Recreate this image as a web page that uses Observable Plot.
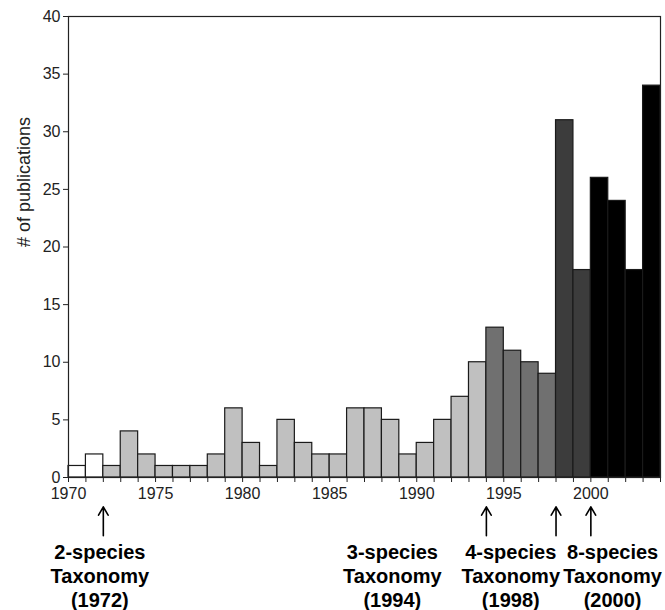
<!DOCTYPE html>
<html>
<head>
<meta charset="utf-8">
<script src="https://cdn.jsdelivr.net/npm/d3@7"></script>
<script src="https://cdn.jsdelivr.net/npm/@observablehq/plot@0.6"></script>
<style>
  html, body { margin: 0; padding: 0; background: #fff; }
  #chart svg { font-family: "Liberation Sans", Arial, sans-serif; }
</style>
</head>
<body>
<div id="chart"></div>
<script>
const years  = [1970,1971,1972,1973,1974,1975,1976,1977,1978,1979,1980,1981,1982,1983,1984,1985,1986,1987,1988,1989,1990,1991,1992,1993,1994,1995,1996,1997,1998,1999,2000,2001,2002,2003];
const counts = [1,2,1,4,2,1,1,1,2,6,3,1,5,3,2,2,6,6,5,2,3,5,7,10,13,11,10,9,31,18,26,24,18,34];
const eras   = ["none","none","2","2","2","2","2","2","2","2","2","2","2","2","2","2","2","2","2","2","2","2","2","2","3","3","3","3","4","4","8","8","8","8"];
const eraNames  = ["none","2","3","4","8"];
const eraColors = ["#ffffff","#c0c0c0","#707070","#3c3c3c","#000000"];
const yTicks = [0,5,10,15,20,25,30,35,40];
const yLabel = "# of publications";

const noteYears  = [1972,1994,1998,2000];
const labelX     = [1971.8,1988.6,1995.4,2001.25];
const labelText  = ["2-species\nTaxonomy\n(1972)","3-species\nTaxonomy\n(1994)","4-species\nTaxonomy\n(1998)","8-species\nTaxonomy\n(2000)"];

const bars = years.map((y, i) => ({year: y, count: counts[i], era: eras[i]}));
const labels = labelText.map((t, i) => ({x: labelX[i], text: t}));
const arrows = noteYears.map(y => ({year: y}));

const chart = Plot.plot({
  width: 665,
  height: 610,
  marginLeft: 68,
  marginRight: 5,
  marginTop: 16,
  marginBottom: 133,
  style: {fontFamily: "Liberation Sans, Arial, sans-serif", fontSize: "16px", color: "#222"},
  x: {domain: [1970, 2004]},
  y: {domain: [0, 40]},
  color: {domain: eraNames, range: eraColors},
  marks: [
    Plot.rectY(bars, {x1: "year", x2: d => d.year + 1, y: "count", fill: "era", stroke: "#1a1a1a", strokeWidth: 1.2}),
    Plot.frame({stroke: "#222", strokeWidth: 1.2}),
    Plot.axisY({ticks: yTicks, tickSize: 5, tickPadding: 3, fontSize: 16, label: null}),
    Plot.text([yLabel], {frameAnchor: "left", dx: -44, rotate: -90, text: d => d, fontSize: 18, fill: "#222"}),
    Plot.axisX({ticks: years.concat([2004]), tickSize: 5, tickPadding: 5, fontSize: 16, tickFormat: d => d % 5 === 0 && d < 2004 ? String(d) : "", label: null}),
    Plot.arrow(arrows, {x1: "year", x2: "year", y1: -5.05, y2: -2.55, stroke: "#000", strokeWidth: 1.6, headLength: 9}),
    Plot.text(labels, {x: "x", y: -5.6, text: "text", lineAnchor: "top", lineHeight: 1.2, fontSize: 20, fontWeight: "bold", fill: "#000"})
  ]
});
document.getElementById("chart").appendChild(chart);
</script>
</body>
</html>
